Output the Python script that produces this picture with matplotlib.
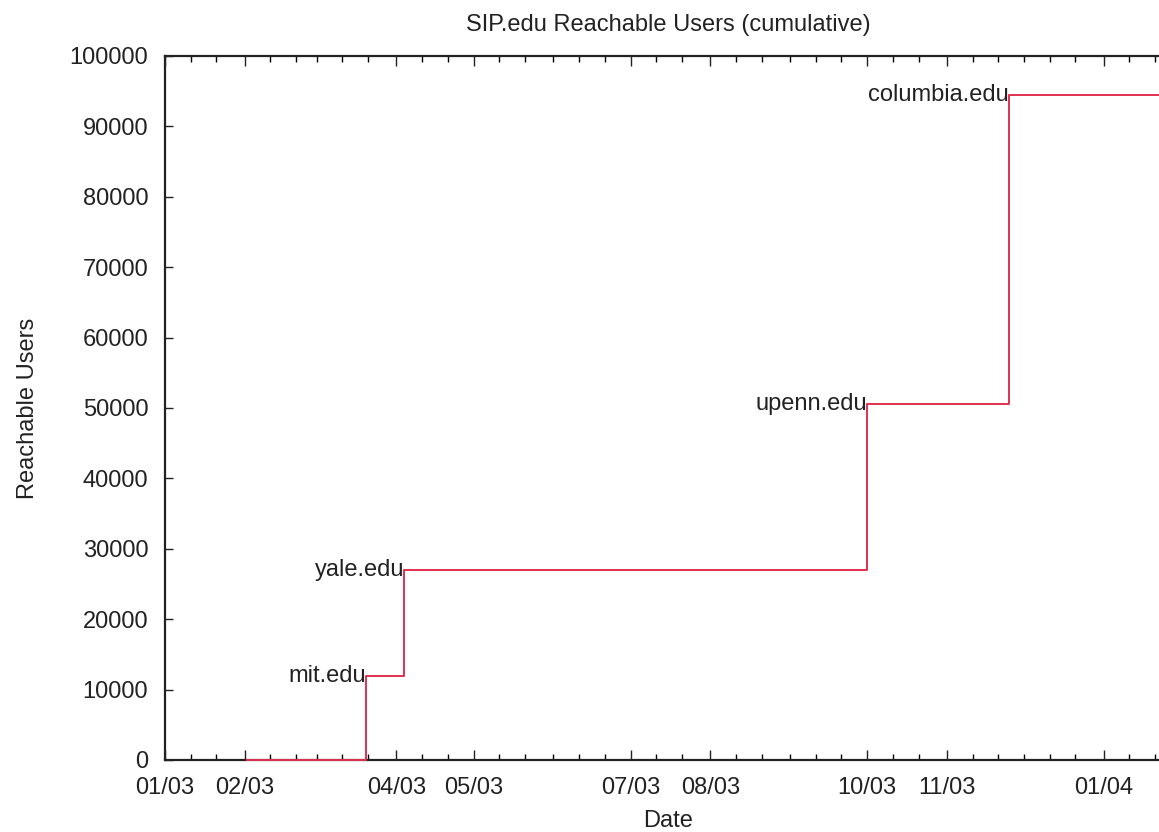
import numpy as np
import datetime as dt
import matplotlib
matplotlib.use('Agg')
import matplotlib.pyplot as plt
import matplotlib.dates as mdates

# step points of the cumulative user count
dates = [dt.date(2003, 2, 2), dt.date(2003, 3, 20), dt.date(2003, 4, 4),
         dt.date(2003, 10, 1), dt.date(2003, 11, 25), dt.date(2004, 2, 1)]
users = [0, 12000, 27000, 50500, 94500, 94500]

# which steps carry a domain label
domainIdx = [1, 2, 3, 4]
domainNames = ['mit.edu', 'yale.edu', 'upenn.edu', 'columbia.edu']

# labelled months on the x axis
tickDates = [dt.date(2003, 1, 1), dt.date(2003, 2, 1), dt.date(2003, 4, 1), dt.date(2003, 5, 1),
             dt.date(2003, 7, 1), dt.date(2003, 8, 1), dt.date(2003, 10, 1), dt.date(2003, 11, 1),
             dt.date(2004, 1, 1)]
tickLabels = ['01/03', '02/03', '04/03', '05/03', '07/03', '08/03', '10/03', '11/03', '01/04']
yTicks = list(range(0, 100001, 10000))

plt.rcParams['font.family'] = ['Liberation Sans', 'DejaVu Sans']
fs = 17
textColor = '#222222'
lineColor = '#e0304f'

fig = plt.figure(figsize=(11.59, 8.32), dpi=100)
ax = fig.add_axes([165/1159, 1 - 760/832, (1172 - 165)/1159, (760 - 56)/832])

x = mdates.date2num(dates)
ax.step(x, users, where='post', color=lineColor, linewidth=1.4, zorder=5, clip_on=False)

for i, name in zip(domainIdx, domainNames):
    ax.text(x[i], users[i], name, ha='right', va='center', fontsize=fs, color=textColor)

start = mdates.date2num(dt.date(2003, 1, 1))
ax.set_xlim(start, start + (1172 - 165)/2.572)
ax.set_ylim(0, 100000)

ax.set_xticks(mdates.date2num(tickDates))
ax.set_xticklabels(tickLabels)
minor = []
for m in range(1, 13):
    for d in (1, 11, 21):
        day = dt.date(2003, m, d)
        if day not in tickDates:
            minor.append(day)
for d in (11, 21):
    minor.append(dt.date(2004, 1, d))
ax.set_xticks(mdates.date2num(minor), minor=True)
ax.set_yticks(yTicks)
ax.set_yticklabels([str(v) for v in yTicks])

ax.tick_params(axis='x', which='major', direction='in', length=7, width=1, top=True,
               labelsize=fs, colors=textColor, pad=12)
ax.tick_params(axis='y', which='major', direction='in', length=6, width=1, right=True,
               labelsize=fs, colors=textColor, pad=12)
ax.tick_params(axis='x', which='minor', direction='in', length=4, width=1, top=True)
for sp in ax.spines.values():
    sp.set_linewidth(1.6)
    sp.set_color(textColor)

ax.set_xlabel('Date', fontsize=fs, color=textColor, labelpad=8)
ax.set_ylabel('Reachable Users', fontsize=fs, color=textColor, labelpad=22)
ax.set_title('SIP.edu Reachable Users (cumulative)', fontsize=fs, color=textColor, pad=18)

fig.savefig('out.png', dpi=100)
